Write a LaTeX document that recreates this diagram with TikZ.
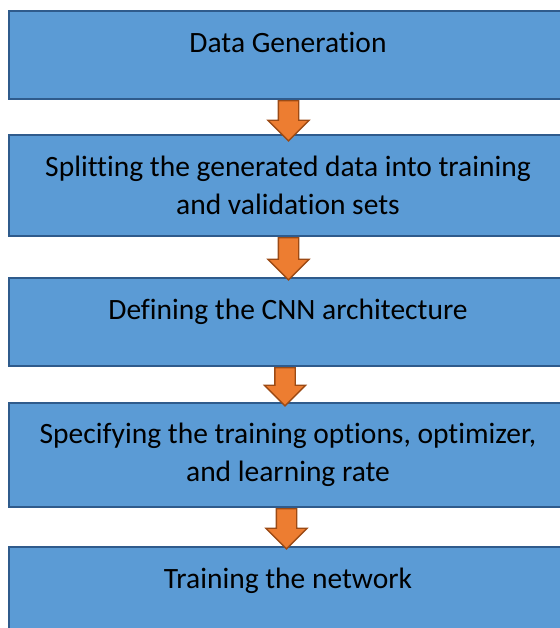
\documentclass[tikz,border=0pt]{standalone}
\usepackage{fontspec}
\setmainfont{Carlito}[Ligatures=NoCommon]
\usetikzlibrary{shapes.arrows,calc}
\definecolor{boxblue}{HTML}{5B9BD5}
\definecolor{boxline}{HTML}{2F5B8C}
\definecolor{arroworange}{HTML}{ED7D31}
\definecolor{arrowline}{HTML}{9C4A14}

\begin{document}
\begin{tikzpicture}[x=1pt, y=1pt,
    box/.style = {draw=boxline, line width=2.4pt, fill=boxblue, minimum width=558pt, align=center, inner sep=0pt, font=\fontsize{29.5}{38}\selectfont},
    oneline/.style = {text height=21pt, text depth=25pt},
    down/.style = {single arrow, draw=arrowline, line width=1.3pt, fill=arroworange, shape border rotate=270, single arrow head extend=10.5pt, single arrow tip angle=90, inner sep=9.5pt, anchor=tail}]
    \useasboundingbox (0,0) rectangle (559,628);

    % Koraki postopka
    \node[box, oneline, minimum height=88pt] (gen) at (288,573) {Data Generation};
    \node[box, minimum height=101pt] (split) at (288,442.5) {Splitting the generated data into training\\and validation sets};
    \node[box, oneline, minimum height=88pt] (cnn) at (288,306) {Defining the CNN architecture};
    \node[box, minimum height=104pt] (opts) at (288,173) {Specifying the training options, optimizer,\\and learning rate};
    \node[box, oneline, minimum height=88pt] (train) at (288,37) {Training the network};

    % Puščice med koraki
    \node[down, minimum height=40pt] (a1) at ($(gen.south)+(0.5,0)$) {};
    \node[down, minimum height=42pt] (a2) at ($(split.south)+(0.5,0)$) {};
    \node[down, minimum height=38pt] (a3) at ($(cnn.south)+(-3,0)$) {};
    \node[down, minimum height=40pt] (a4) at ($(opts.south)+(-1.5,0)$) {};

\end{tikzpicture}
\end{document}
